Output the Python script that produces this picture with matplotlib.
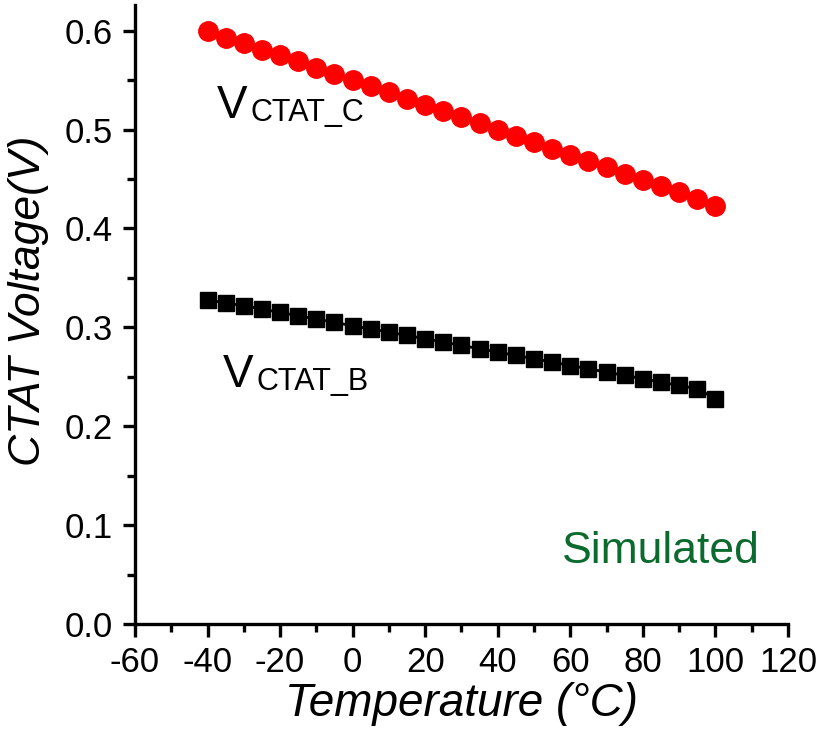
import numpy as np
import matplotlib
matplotlib.use("Agg")
import matplotlib.pyplot as plt
from matplotlib.ticker import MultipleLocator, FormatStrFormatter

plt.rcParams['font.family'] = ['Liberation Sans', 'DejaVu Sans']
plt.rcParams['axes.unicode_minus'] = False

temperature = list(range(-40, 101, 5))
v_ctat_c = [0.5995, 0.5928, 0.5877, 0.5810, 0.5750, 0.5690, 0.5624, 0.5560,
            0.5506, 0.5438, 0.5378, 0.5314, 0.5253, 0.5185, 0.5128, 0.5068,
            0.5000, 0.4939, 0.4875, 0.4808, 0.4747, 0.4680, 0.4619, 0.4552,
            0.4494, 0.4426, 0.4366, 0.4299, 0.4224]
v_ctat_b = [0.3280, 0.3246, 0.3219, 0.3185, 0.3151, 0.3117, 0.3084, 0.3050,
            0.3016, 0.2983, 0.2952, 0.2918, 0.2885, 0.2851, 0.2817, 0.2783,
            0.2750, 0.2716, 0.2682, 0.2649, 0.2614, 0.2581, 0.2547, 0.2514,
            0.2480, 0.2446, 0.2412, 0.2379, 0.2280]

fig = plt.figure(figsize=(8.22, 7.48), dpi=100)
ax = fig.add_axes([0.1642, 0.1658, 0.7944, 0.8275])

ax.plot(temperature, v_ctat_c, '-o', color='#ff0000', ms=14, lw=2,
        mec='#ff0000', clip_on=False)
ax.plot(temperature, v_ctat_b, '-s', color='black', ms=12, lw=2,
        clip_on=False)

ax.set_xlim(-60, 120)
ax.set_ylim(0, 0.626)
ax.xaxis.set_major_locator(MultipleLocator(20))
ax.xaxis.set_minor_locator(MultipleLocator(10))
ax.yaxis.set_major_locator(MultipleLocator(0.1))
ax.yaxis.set_minor_locator(MultipleLocator(0.05))
ax.yaxis.set_major_formatter(FormatStrFormatter('%.1f'))

for s in ['top', 'right']:
    ax.spines[s].set_visible(False)
for s in ['left', 'bottom']:
    ax.spines[s].set_linewidth(2.4)

ax.tick_params(axis='both', which='major', direction='out', length=9,
               width=2.4, labelsize=25, pad=7)
ax.tick_params(axis='both', which='minor', direction='out', length=5.5,
               width=2.4)

ax.set_xlabel('Temperature (°C)', fontsize=33, style='italic', labelpad=2)
ax.set_ylabel('CTAT Voltage(V)', fontsize=32, style='italic')
ax.yaxis.set_label_coords(-0.131, 0.523)

# curve labels: large V followed by a smaller suffix
vc = ax.text(-37.4, 0.512, 'V', fontsize=33, va='baseline', ha='left')
ax.annotate('CTAT_C', xy=(1, 0), xycoords=vc, xytext=(2, 0),
            textcoords='offset points', fontsize=22, va='bottom', ha='left')
vb = ax.text(-35.7, 0.240, 'V', fontsize=33, va='baseline', ha='left')
ax.annotate('CTAT_B', xy=(1, 0), xycoords=vb, xytext=(2, 0),
            textcoords='offset points', fontsize=22, va='bottom', ha='left')

ax.text(57.7, 0.062, 'Simulated', fontsize=32, color='#0b6b2e',
        va='baseline', ha='left')

fig.savefig('out.png', dpi=100)
